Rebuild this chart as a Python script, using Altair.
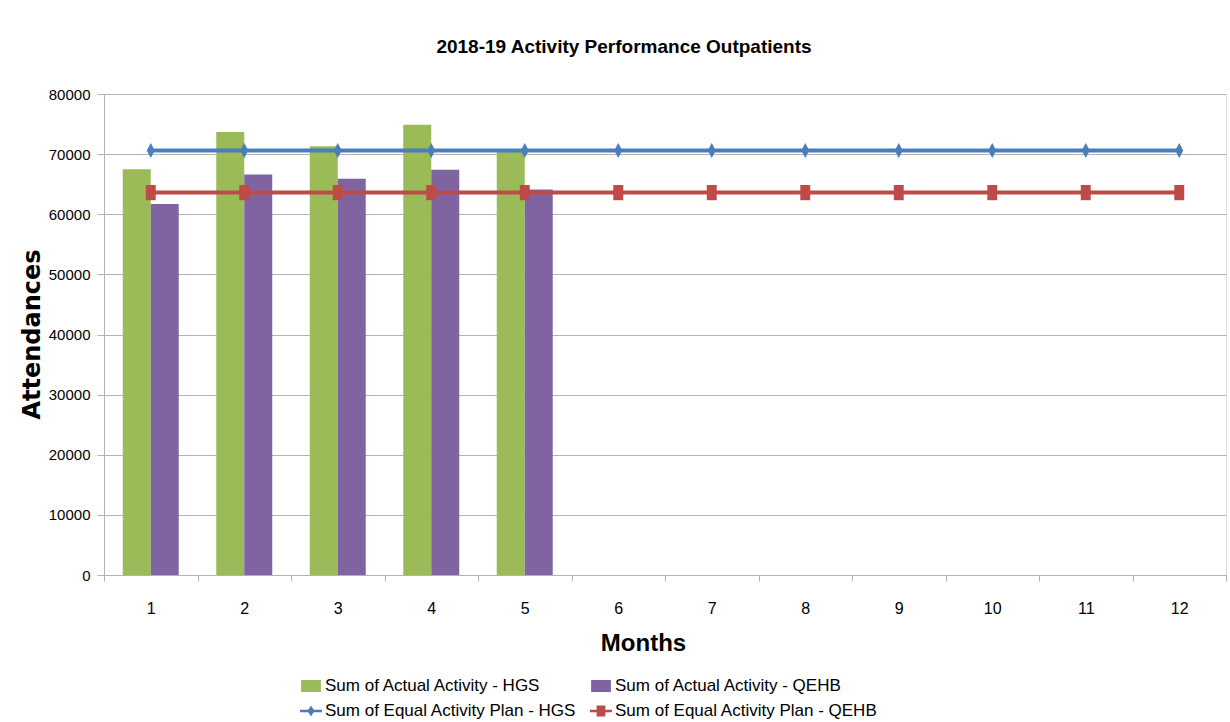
import altair as alt
import pandas as pd

# ---- data ----
months = [1, 2, 3, 4, 5, 6, 7, 8, 9, 10, 11, 12]
actual_months = [1, 2, 3, 4, 5]
actual_hgs = [67500, 73700, 71300, 74900, 70400]
actual_qehb = [61700, 66600, 65900, 67400, 64100]
plan_hgs = [70600, 70600, 70600, 70600, 70600, 70600, 70600, 70600, 70600, 70600, 70600, 70600]
plan_qehb = [63600, 63600, 63600, 63600, 63600, 63600, 63600, 63600, 63600, 63600, 63600, 63600]
y_ticks = [0, 10000, 20000, 30000, 40000, 50000, 60000, 70000, 80000]

S1 = "Sum of Actual Activity - HGS"
S2 = "Sum of Actual Activity - QEHB"
S3 = "Sum of Equal Activity Plan - HGS"
S4 = "Sum of Equal Activity Plan - QEHB"
series = [S1, S2, S3, S4]
colors = ["#9BBB59", "#8064A2", "#4A7EBB", "#BE4B48"]

bars = pd.DataFrame(
    {"month": actual_months * 2,
     "series": [S1] * len(actual_months) + [S2] * len(actual_months),
     "value": actual_hgs + actual_qehb}
)
plans = pd.DataFrame(
    {"month": months * 2,
     "series": [S3] * len(months) + [S4] * len(months),
     "value": plan_hgs + plan_qehb}
)

FONT = "Liberation Sans, Arial, sans-serif"
GRID = "#b3b3b3"

# legend symbol paths (unit coords)
rect_sym = "M-0.9,-0.55H0.9V0.55H-0.9Z"
blue_sym = "M-1,-0.12H1V0.12H-1Z M0,-0.5L0.32,0L0,0.5L-0.32,0Z"
red_sym = "M-1,-0.12H1V0.12H-1Z M-0.4,-0.5H0.4V0.5H-0.4Z"

# chart marker paths
diamond_mk = "M0,-0.95L0.5,0L0,0.95L-0.5,0Z"
square_mk = "M-0.62,-0.95H0.62V0.95H-0.62Z"

x_enc = alt.X(
    "month:O",
    scale=alt.Scale(domain=months, paddingInner=0, paddingOuter=0),
    axis=alt.Axis(
        title="Months", labelAngle=0, tickBand="extent", tickSize=6,
        tickColor=GRID, domainColor=GRID, grid=False,
        labelFont=FONT, labelFontSize=16, labelColor="#000000", labelPadding=19,
        titleFont=FONT, titleFontSize=24, titleFontWeight="bold", titleColor="#000000",
        titleX=539, titleY=68, titleBaseline="middle",
    ),
)
y_enc = alt.Y(
    "value:Q",
    scale=alt.Scale(domain=[0, 80000]),
    axis=alt.Axis(
        title="Attendances", values=y_ticks, format="d", tickSize=7,
        tickColor=GRID, domainColor=GRID, gridColor=GRID,
        labelFont=FONT, labelFontSize=15, labelColor="#000000", labelPadding=7,
        titleFont="DejaVu Sans", titleFontSize=24, titleFontWeight="bold", titleColor="#000000",
        titleX=-72, titleY=240, titleBaseline="middle",
    ),
)
color_scale = alt.Scale(domain=series, range=colors)

bar_layer = alt.Chart(bars).mark_bar().encode(
    x=x_enc,
    xOffset=alt.XOffset(
        "series:N", scale=alt.Scale(domain=[S1, S2], paddingInner=0, paddingOuter=0.67)
    ),
    y=y_enc,
    color=alt.Color("series:N", scale=color_scale),
)

line_layer = alt.Chart(plans).mark_line(strokeWidth=4).encode(
    x=x_enc, y=y_enc, color=alt.Color("series:N", scale=color_scale), detail="series:N"
)

pts_hgs = alt.Chart(plans).transform_filter(alt.datum.series == S3).mark_point(
    filled=True, opacity=1, size=256, shape=diamond_mk, strokeWidth=0
).encode(x=x_enc, y=y_enc, color=alt.Color("series:N", scale=color_scale))

pts_qehb = alt.Chart(plans).transform_filter(alt.datum.series == S4).mark_point(
    filled=True, opacity=1, size=256, shape=square_mk, strokeWidth=0
).encode(x=x_enc, y=y_enc, color=alt.Color("series:N", scale=color_scale))

legend_layer = alt.Chart(plans).transform_filter("false").mark_point(
    filled=True, opacity=1
).encode(
    x=x_enc, y=y_enc,
    color=alt.Color("series:N", scale=color_scale),
    shape=alt.Shape(
        "series:N",
        scale=alt.Scale(domain=series, range=[rect_sym, rect_sym, blue_sym, red_sym]),
        legend=alt.Legend(
            title=None, orient="none", legendX=196, legendY=581, columns=2,
            direction="horizontal",
            symbolSize=484, symbolStrokeWidth=0, symbolOpacity=1,
            labelFont=FONT, labelFontSize=17, labelColor="#000000", labelOffset=3,
            columnPadding=13, rowPadding=6, labelLimit=400,
        ),
    ),
)

chart = alt.layer(bar_layer, line_layer, pts_hgs, pts_qehb, legend_layer).properties(
    width=1122, height=481,
    title=alt.TitleParams(
        "2018-19 Activity Performance Outpatients", font=FONT, fontSize=19,
        fontWeight="bold", color="#000000", anchor="middle", dx=-41, offset=30,
    ),
    autosize=alt.AutoSizeParams(type="none"),
    padding={"left": 104, "top": 94, "right": 4, "bottom": 147},
).configure_view(stroke=None).configure(background="#ffffff")

chart.save("out.html", embed_options={"renderer": "svg", "actions": False})
